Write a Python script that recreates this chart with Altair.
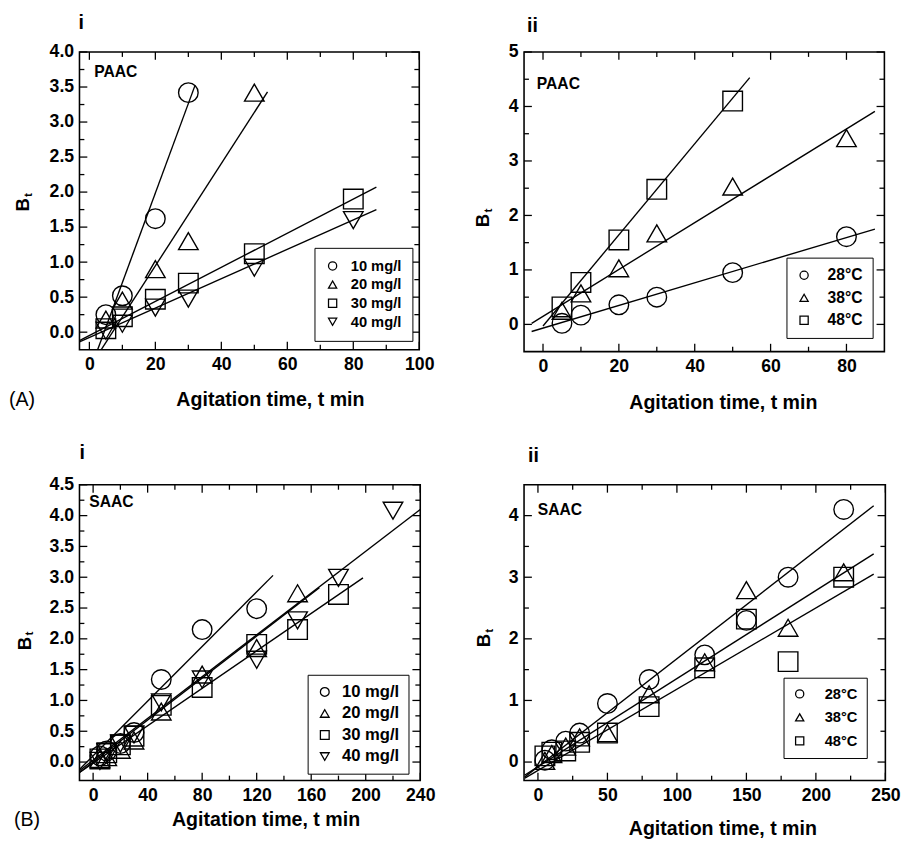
import altair as alt
import pandas as pd

FONT = "Liberation Sans"
XT = "Agitation time, t min"

# ---------------- Panel A(i): PAAC, initial concentration ----------------
ai_series = ["10 mg/l", "20 mg/l", "30 mg/l", "40 mg/l"]
ai_t10 = [5, 10, 20, 30]
ai_b10 = [0.25, 0.52, 1.62, 3.42]
ai_t20 = [5, 10, 20, 30, 50]
ai_b20 = [0.18, 0.45, 0.90, 1.30, 3.42]
ai_t30 = [5, 10, 20, 30, 50, 80]
ai_b30 = [0.05, 0.22, 0.47, 0.70, 1.12, 1.90]
ai_t40 = [5, 10, 20, 30, 50, 80]
ai_b40 = [0.02, 0.12, 0.35, 0.48, 0.92, 1.60]
ai_line_t = {"10 mg/l": [2.5, 32], "20 mg/l": [3.6, 54], "30 mg/l": [-3, 87], "40 mg/l": [-3, 87]}
ai_line_b = {"10 mg/l": [-0.25, 3.52], "20 mg/l": [-0.25, 3.43], "30 mg/l": [-0.12, 2.07], "40 mg/l": [-0.14, 1.75]}

# ---------------- Panel A(ii): PAAC, temperature ----------------
aii_series = ["28\u00b0C", "38\u00b0C", "48\u00b0C"]
aii_t28 = [5, 10, 20, 30, 50, 80]
aii_b28 = [0.02, 0.17, 0.36, 0.50, 0.95, 1.61]
aii_t38 = [5, 10, 20, 30, 50, 80]
aii_b38 = [0.25, 0.57, 1.03, 1.67, 2.53, 3.42]
aii_t48 = [5, 10, 20, 30, 50]
aii_b48 = [0.32, 0.77, 1.55, 2.48, 4.10]
aii_line_t = {"28\u00b0C": [-3, 87.5], "38\u00b0C": [-3, 87.5], "48\u00b0C": [0, 54.5]}
aii_line_b = {"28\u00b0C": [-0.13, 1.75], "38\u00b0C": [0.02, 3.91], "48\u00b0C": [-0.03, 4.53]}

# ---------------- Panel B(i): SAAC, initial concentration ----------------
bi_series = ["10 mg/l", "20 mg/l", "30 mg/l", "40 mg/l"]
bi_t10 = [5, 10, 20, 30, 50, 80, 120]
bi_b10 = [0.10, 0.18, 0.30, 0.48, 1.34, 2.15, 2.49]
bi_t20 = [5, 10, 20, 30, 50, 80, 120, 150]
bi_b20 = [0.05, 0.08, 0.20, 0.35, 0.82, 1.42, 1.85, 2.74]
bi_t30 = [5, 10, 20, 30, 50, 80, 120, 150, 180]
bi_b30 = [0.05, 0.15, 0.28, 0.42, 0.92, 1.21, 1.91, 2.15, 2.72]
bi_t40 = [5, 10, 20, 30, 50, 80, 120, 150, 180, 220]
bi_b40 = [0.02, 0.16, 0.30, 0.45, 0.97, 1.34, 1.66, 2.30, 2.99, 4.08]
bi_line_t = {"10 mg/l": [-10, 132], "20 mg/l": [-10, 166], "30 mg/l": [-10, 198], "40 mg/l": [-10, 240]}
bi_line_b = {"10 mg/l": [-0.12, 3.03], "20 mg/l": [-0.17, 2.83], "30 mg/l": [-0.17, 2.99], "40 mg/l": [-0.14, 4.10]}

# ---------------- Panel B(ii): SAAC, temperature ----------------
bii_series = ["28\u00b0C", "38\u00b0C", "48\u00b0C"]
bii_t = [5, 10, 20, 30, 50, 80, 120, 150, 180, 220]
bii_b28 = [0.03, 0.20, 0.34, 0.47, 0.95, 1.34, 1.74, 2.30, 3.00, 4.10]
bii_b38 = [0.02, 0.13, 0.25, 0.40, 0.47, 1.10, 1.62, 2.79, 2.18, 3.08]
bii_b48 = [0.10, 0.16, 0.18, 0.32, 0.47, 0.90, 1.53, 2.32, 1.63, 3.00]
bii_line_t = {"28\u00b0C": [-9.4, 241.6], "38\u00b0C": [-9.4, 241.6], "48\u00b0C": [-9.4, 241.6]}
bii_line_b = {"28\u00b0C": [-0.24, 4.16], "38\u00b0C": [-0.21, 3.38], "48\u00b0C": [-0.26, 3.05]}

# tick values
ai_xmaj = [0, 20, 40, 60, 80, 100]
ai_xmin = [10, 30, 50, 70, 90]
ai_ymaj = [0, 0.5, 1.0, 1.5, 2.0, 2.5, 3.0, 3.5, 4.0]
ai_ymin = [0.25, 0.75, 1.25, 1.75, 2.25, 2.75, 3.25, 3.75]
aii_xmaj = [0, 20, 40, 60, 80]
aii_xmin = [10, 30, 50, 70]
aii_ymaj = [0, 1, 2, 3, 4, 5]
aii_ymin = [0.5, 1.5, 2.5, 3.5, 4.5]
bi_xmaj = [0, 40, 80, 120, 160, 200, 240]
bi_xmin = [20, 60, 100, 140, 180, 220]
bi_ymaj = [0, 0.5, 1.0, 1.5, 2.0, 2.5, 3.0, 3.5, 4.0, 4.5]
bi_ymin = [0.25, 0.75, 1.25, 1.75, 2.25, 2.75, 3.25, 3.75, 4.25]
bii_xmaj = [0, 50, 100, 150, 200, 250]
bii_xmin = [25, 75, 125, 175, 225]
bii_ymaj = [0, 1, 2, 3, 4]
bii_ymin = [0.5, 1.5, 2.5, 3.5]

SHAPES4 = ["circle", "triangle-up", "square", "triangle-down"]
SHAPES3 = ["circle", "triangle-up", "square"]


def txt(s, x, y, size, weight="bold", align="left", angle=0):
    return alt.Chart(pd.DataFrame({"s": [s]})).mark_text(
        align=align, baseline="middle", fontSize=size, fontWeight=weight,
        font=FONT, angle=angle, color="black"
    ).encode(text="s:N", x=alt.value(x), y=alt.value(y))


def panel(series, shapes, pts, lines_t, lines_b, xdom, ydom, w, h,
          xmaj, xmin, ymaj, ymin, yfmt, leg, tag, tag_xy, roman, roman_xy,
          b_xy, letter, letter_xy, title_pad, title_dx):
    rows = []
    for s, (ts, bs) in zip(series, pts):
        for t, b in zip(ts, bs):
            rows.append({"s": s, "t": t, "b": b})
    pdf = pd.DataFrame(rows)
    lrows = []
    for s in series:
        for t, b in zip(lines_t[s], lines_b[s]):
            lrows.append({"s": s, "t": t, "b": b})
    ldf = pd.DataFrame(lrows)

    X = alt.X("t:Q", title=XT,
              scale=alt.Scale(domain=xdom, nice=False, zero=False),
              axis=alt.Axis(values=xmaj, ticks=False, domain=False, grid=False,
                            labelPadding=6, titlePadding=title_pad,
                            titleX=w / 2 + title_dx, format="d",
                            labelFlush=False, labelOverlap=False,
                            labelFont=FONT, labelFontSize=18, labelFontWeight="bold",
                            labelColor="black", titleFont=FONT, titleFontSize=20,
                            titleFontWeight="bold", titleColor="black"))
    Y = alt.Y("b:Q", title="",
              scale=alt.Scale(domain=ydom, nice=False, zero=False),
              axis=alt.Axis(values=ymaj, ticks=False, domain=False, grid=False,
                            labelPadding=6, format=yfmt, labelFlush=False,
                            labelOverlap=False, labelSeparation=0, labelBound=False,
                            labelFont=FONT, labelFontSize=18, labelFontWeight="bold",
                            labelColor="black"))

    points = alt.Chart(pdf).mark_point(
        filled=False, size=400, strokeWidth=1.4, color="black", opacity=1
    ).encode(
        x=X, y=Y,
        shape=alt.Shape("s:N", scale=alt.Scale(domain=series, range=shapes),
                        legend=alt.Legend(
                            title=None, orient="none", legendX=leg["x"], legendY=leg["y"],
                            strokeColor="black", fillColor="white", padding=leg["pad"],
                            labelFont=FONT, labelFontSize=leg["fs"], labelFontWeight="bold",
                            labelColor="black", symbolSize=leg["sym"], symbolStrokeWidth=1.3,
                            symbolStrokeColor="black", rowPadding=leg["row"],
                            labelOffset=leg["off"])),
    )
    lines = alt.Chart(ldf).mark_line(color="black", strokeWidth=1.4).encode(
        x=X, y=Y, detail="s:N")

    layers = [lines, points]
    for vals, L in ((xmaj, 8), (xmin, 5)):
        d = pd.DataFrame({"t": vals})
        base = alt.Chart(d).mark_rule(color="black", strokeWidth=1.3)
        layers.append(base.encode(x=X, y=alt.value(h), y2=alt.value(h - L)))
        layers.append(base.encode(x=X, y=alt.value(0), y2=alt.value(L)))
    for vals, L in ((ymaj, 8), (ymin, 5)):
        d = pd.DataFrame({"b": vals})
        base = alt.Chart(d).mark_rule(color="black", strokeWidth=1.3)
        layers.append(base.encode(y=Y, x=alt.value(0), x2=alt.value(L)))
        layers.append(base.encode(y=Y, x=alt.value(w), x2=alt.value(w - L)))

    layers.append(txt(tag, tag_xy[0], tag_xy[1], 16))
    layers.append(txt(roman, roman_xy[0], roman_xy[1], 20))
    layers.append(txt("B", b_xy[0], b_xy[1], 19, angle=270, align="center"))
    layers.append(txt("t", b_xy[0] + 5, b_xy[1] - 10, 12, angle=270, align="center"))
    if letter:
        layers.append(txt(letter, letter_xy[0], letter_xy[1], 20, weight="normal"))
    return alt.layer(*layers).properties(width=w, height=h)


pAi = panel(ai_series, SHAPES4,
            [(ai_t10, ai_b10), (ai_t20, ai_b20), (ai_t30, ai_b30), (ai_t40, ai_b40)],
            ai_line_t, ai_line_b, [-3, 100], [-0.25, 4.0], 347, 304,
            ai_xmaj, ai_xmin, ai_ymaj, ai_ymin, ".1f",
            {"x": 240, "y": 200, "pad": 11, "fs": 15, "sym": 70, "row": 3, "off": 11},
            "PAAC", (15, 21), "i", (-1, -29), (-58, 156), "(A)", (-72, 356), 17, 21)

pAii = panel(aii_series, SHAPES3,
             [(aii_t28, aii_b28), (aii_t38, aii_b38), (aii_t48, aii_b48)],
             aii_line_t, aii_line_b, [-5, 90], [-0.5, 5], 368, 306,
             aii_xmaj, aii_xmin, aii_ymaj, aii_ymin, "d",
             {"x": 268, "y": 210, "pad": 10, "fs": 16, "sym": 70, "row": 7, "off": 16},
             "PAAC", (13, 33), "ii", (3, -26), (-42, 172), None, None, 18, 19)

pBi = panel(bi_series, SHAPES4,
            [(bi_t10, bi_b10), (bi_t20, bi_b20), (bi_t30, bi_b30), (bi_t40, bi_b40)],
            bi_line_t, bi_line_b, [-10, 240], [-0.3, 4.5], 348, 302,
            bi_xmaj, bi_xmin, bi_ymaj, bi_ymin, ".1f",
            {"x": 233, "y": 194, "pad": 9, "fs": 17, "sym": 80, "row": 4, "off": 9},
            "SAAC", (10, 18), "i", (0, -32), (-56, 162), "(B)", (-67, 342), 6, 16)

pBii = panel(bii_series, SHAPES3,
             [(bii_t, bii_b28), (bii_t, bii_b38), (bii_t, bii_b48)],
             bii_line_t, bii_line_b, [-10, 250], [-0.3, 4.5], 369, 302,
             bii_xmaj, bii_xmin, bii_ymaj, bii_ymin, "d",
             {"x": 265, "y": 197, "pad": 9, "fs": 15, "sym": 70, "row": 8, "off": 18},
             "SAAC", (14, 26), "ii", (4, -29), (-41, 159), None, None, 15, 18)

chart = alt.concat(
    pAi, pAii, pBi, pBii, columns=2,
    spacing=alt.RowColnumber(row=136, column=106), bounds="flush"
).resolve_scale(
    x="independent", y="independent", shape="independent"
).resolve_legend(
    shape="independent"
).properties(
    padding={"left": 0, "top": -4, "right": 2, "bottom": 2}, background="white"
).configure_view(
    stroke="black", strokeWidth=1.6
)

chart.save("out.html", embed_options={"renderer": "svg", "actions": False})
